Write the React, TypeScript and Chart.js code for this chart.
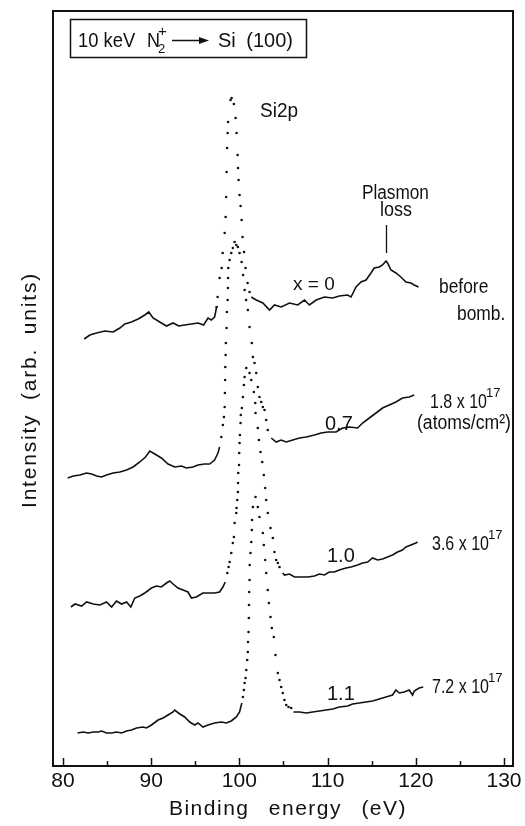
import React, { useEffect, useRef } from 'react';
import { Chart, registerables } from 'chart.js';

Chart.register(...registerables);

// ---- axis ticks (binding energy, eV) ----
const xTickValues = [80, 90, 100, 110, 120, 130];
const xMinorTickValues = [85, 95, 105, 115, 125];

// ---- curve 1 : x = 0, before bombardment ----
const c1LeftE = [82.41, 83.05, 83.81, 84.75, 85.69, 86.45, 87.01, 87.77, 88.52, 89.28, 89.73, 90.21, 90.97, 91.73, 92.48, 93.12, 93.80, 94.56, 95.31, 95.95, 96.44, 96.82, 97.19, 97.42];
const c1LeftI = [427, 431, 433, 435, 434, 438, 442, 444, 447, 451, 454, 448, 444, 440, 443, 440, 441, 442, 443, 441, 448, 446, 449, 459];
const c1PeakE = [97.42, 97.53, 97.76, 97.99, 98.10, 98.33, 98.44, 98.50, 98.55, 98.61, 98.67, 98.72, 99.00, 99.12, 99.38, 99.57, 99.68, 99.80, 99.85, 99.91, 100.02, 100.14, 100.25, 100.36, 100.53, 100.70, 100.93, 101.15];
const c1PeakI = [459, 469, 488, 498, 513, 533, 549, 569, 594, 618, 633, 644, 666, 668, 662, 648, 633, 611, 598, 586, 571, 560, 546, 529, 514, 498, 483, 474];
const c1RightE = [101.35, 101.91, 102.66, 103.42, 103.98, 104.74, 105.68, 106.62, 107.38, 107.94, 108.70, 109.64, 110.58, 111.33, 112.27, 112.66, 113.22, 113.79, 114.36, 114.92, 115.29, 115.86, 116.23, 116.62, 116.80, 117.18, 117.75, 118.31, 118.88, 119.45, 119.82, 120.31];
const c1RightI = [469, 466, 463, 456, 461, 459, 463, 461, 466, 461, 466, 469, 468, 470, 471, 469, 479, 484, 486, 493, 498, 499, 501, 505, 503, 496, 493, 489, 484, 483, 481, 479];

// ---- curve 2 : x = 0.7, 1.8e17 ----
const c2LeftE = [80.53, 81.17, 81.92, 82.68, 83.25, 83.81, 84.38, 84.94, 85.69, 86.45, 87.21, 87.95, 88.71, 89.36, 89.84, 90.41, 91.16, 91.91, 92.67, 93.43, 93.99, 94.74, 95.31, 96.06, 96.63, 97.19, 97.57, 97.76];
const c2LeftI = [288, 290, 291, 293, 292, 290, 289, 291, 293, 294, 296, 299, 304, 309, 315, 312, 308, 302, 299, 300, 298, 299, 301, 302, 302, 306, 313, 319];
const c2PeakE = [97.95, 98.13, 98.25, 98.33, 98.36, 98.38, 98.40, 98.44, 98.47, 98.55, 98.58, 98.67, 98.70, 98.72, 98.74, 98.89, 99.08, 99.26, 99.46, 99.65, 99.83, 100.02, 100.25, 100.42, 100.59, 100.76, 100.96, 101.15, 101.41, 101.53, 101.72, 101.91, 102.09, 102.28, 102.48, 102.66, 102.85, 103.04, 103.22];
const c2PeakI = [329, 341, 349, 359, 373, 386, 399, 411, 423, 438, 454, 466, 478, 488, 498, 506, 513, 518, 524, 521, 519, 513, 504, 491, 476, 466, 456, 439, 423, 409, 403, 393, 379, 369, 364, 359, 356, 346, 336];
const c2RightE = [103.61, 104.17, 104.74, 105.31, 106.05, 106.81, 107.57, 108.51, 109.26, 110.01, 110.96, 111.71, 112.47, 113.40, 113.97, 114.73, 115.49, 116.23, 116.99, 117.75, 118.49, 119.25, 119.82];
const c2RightI = [328, 324, 326, 324, 326, 328, 329, 331, 333, 334, 334, 338, 339, 338, 343, 348, 353, 358, 361, 364, 368, 369, 371];

// ---- curve 3 : x = 1.0, 3.6e17 ----
const c3LeftE = [80.90, 81.36, 82.12, 82.68, 83.43, 84.19, 84.94, 85.51, 86.07, 86.64, 87.21, 87.69, 88.14, 88.71, 89.28, 90.03, 90.60, 91.16, 91.73, 92.10, 92.48, 93.04, 93.61, 94.17, 94.56, 95.12, 95.87, 96.63, 97.19, 97.76, 98.13, 98.40];
const c3LeftI = [159, 162, 160, 164, 162, 161, 164, 159, 165, 162, 164, 159, 168, 170, 173, 178, 180, 179, 183, 185, 182, 178, 176, 174, 168, 169, 173, 173, 173, 174, 179, 184];
const c3PeakE = [98.63, 98.78, 98.89, 99.08, 99.26, 99.38, 99.46, 99.65, 99.68, 99.76, 99.83, 99.85, 99.87, 99.96, 99.98, 100.02, 100.06, 100.13, 100.16, 100.28, 100.40, 100.51, 100.59, 100.78, 101.15, 101.35, 101.64, 101.80, 101.83, 102.09, 102.21, 102.40, 102.59, 102.77, 102.93, 103.04, 103.22, 103.53, 103.79, 103.98, 104.17, 104.36, 104.55];
const c3PeakI = [193, 199, 204, 213, 223, 229, 243, 253, 258, 266, 274, 283, 293, 301, 313, 323, 331, 343, 351, 358, 369, 381, 389, 398, 393, 386, 374, 363, 353, 338, 326, 314, 304, 291, 278, 266, 253, 238, 228, 214, 206, 203, 199];
const c3RightE = [104.92, 105.11, 105.68, 106.25, 107.00, 107.75, 108.51, 109.07, 109.64, 110.20, 110.77, 111.33, 112.09, 112.66, 113.40, 113.97, 114.54, 115.10, 115.67, 116.23, 116.80, 117.36, 117.93, 118.49, 118.88, 119.45, 120.01, 120.19];
const c3RightI = [193, 191, 192, 189, 189, 189, 190, 192, 191, 194, 194, 196, 198, 199, 201, 203, 204, 208, 206, 207, 209, 211, 214, 216, 219, 221, 223, 224];

// ---- curve 4 : x = 1.1, 7.2e17 ----
const c4LeftE = [81.66, 82.30, 82.86, 83.43, 83.99, 84.38, 84.94, 85.51, 86.07, 86.64, 87.21, 87.77, 88.34, 89.08, 89.47, 90.03, 90.78, 91.35, 91.91, 92.48, 92.67, 93.24, 93.80, 94.37, 94.93, 95.31, 95.87, 96.44, 97.19, 97.95, 98.52, 99.08, 99.65, 100.02, 100.28];
const c4LeftI = [33, 34, 33, 34, 34, 35, 33, 33, 34, 33, 35, 36, 38, 39, 38, 41, 46, 48, 51, 54, 56, 52, 49, 44, 41, 43, 39, 41, 43, 44, 43, 45, 49, 54, 63];
const c4PeakE = [100.40, 100.51, 100.59, 100.70, 100.78, 100.89, 100.96, 100.98, 101.04, 101.07, 101.09, 101.11, 101.15, 101.17, 101.26, 101.35, 101.41, 101.44, 101.53, 101.83, 102.09, 102.28, 102.66, 102.77, 102.93, 103.04, 103.22, 103.34, 103.53, 103.68, 103.90, 104.09, 104.36, 104.55, 104.74, 104.92, 105.11, 105.31, 105.57, 105.87];
const c4PeakI = [69, 76, 83, 88, 96, 106, 114, 124, 134, 148, 161, 174, 186, 201, 213, 224, 236, 246, 259, 269, 259, 249, 233, 221, 206, 193, 176, 163, 149, 138, 129, 111, 93, 86, 79, 73, 66, 61, 59, 58];
const c4RightE = [106.13, 106.81, 107.57, 108.31, 109.07, 109.83, 110.58, 111.33, 112.27, 112.84, 113.60, 114.36, 115.10, 115.86, 116.62, 117.36, 117.75, 118.12, 118.69, 119.25, 119.63, 119.82, 120.38, 120.84];
const c4RightI = [54, 54, 53, 54, 55, 56, 57, 59, 60, 62, 63, 64, 65, 67, 69, 71, 76, 73, 74, 76, 71, 75, 78, 79];

const FONT = '"Liberation Sans", Arial, sans-serif';
const INK = '#111';

const zip = (e: number[], v: number[]) => e.map((x, k) => ({ x, y: v[k] }));

function drawText(
  ctx: CanvasRenderingContext2D,
  s: string,
  x: number,
  y: number,
  size: number,
  sx = 1,
  extra: { ls?: number; ws?: number; align?: CanvasTextAlign } = {}
) {
  ctx.save();
  ctx.font = `${size}px ${FONT}`;
  ctx.fillStyle = INK;
  ctx.textBaseline = 'alphabetic';
  ctx.textAlign = extra.align || 'left';
  (ctx as any).letterSpacing = `${extra.ls || 0}px`;
  (ctx as any).wordSpacing = `${extra.ws || 0}px`;
  ctx.translate(x, y);
  ctx.scale(sx, 1);
  ctx.fillText(s, 0, 0);
  ctx.restore();
}

const decorPlugin = {
  id: 'decor',
  beforeDraw(chart: any) {
    const ctx = chart.ctx as CanvasRenderingContext2D;
    ctx.save();
    ctx.fillStyle = '#fff';
    ctx.fillRect(0, 0, chart.width, chart.height);
    ctx.restore();
  },
  afterDraw(chart: any) {
    const ctx = chart.ctx as CanvasRenderingContext2D;
    const a = chart.chartArea;
    const xs = chart.scales.x;
    ctx.save();
    // frame
    ctx.strokeStyle = INK;
    ctx.lineWidth = 2;
    ctx.strokeRect(a.left, a.top, a.right - a.left, a.bottom - a.top);
    // inward ticks
    ctx.lineWidth = 1.5;
    const tick = (v: number, len: number) => {
      const px = Math.round(xs.getPixelForValue(v)) + 0.5;
      ctx.beginPath();
      ctx.moveTo(px, a.bottom);
      ctx.lineTo(px, a.bottom - len);
      ctx.stroke();
    };
    xTickValues.forEach((v) => tick(v, 8));
    xMinorTickValues.forEach((v) => tick(v, 5));

    // title box
    ctx.lineWidth = 1.5;
    ctx.strokeRect(70.5, 19.5, 236, 38);
    drawText(ctx, '10 keV', 78, 47, 20, 0.92);
    drawText(ctx, 'N', 147, 47, 20, 0.9);
    drawText(ctx, '2', 158, 53, 13);
    drawText(ctx, '+', 158, 36, 15);
    // reaction arrow
    ctx.lineWidth = 1.5;
    ctx.beginPath();
    ctx.moveTo(172, 40.5);
    ctx.lineTo(202, 40.5);
    ctx.stroke();
    ctx.beginPath();
    ctx.moveTo(209, 40.5);
    ctx.lineTo(199, 37);
    ctx.lineTo(199, 44);
    ctx.closePath();
    ctx.fillStyle = INK;
    ctx.fill();
    drawText(ctx, 'Si (100)', 218, 47, 20, 1, { ws: 5 });

    // peak annotations
    drawText(ctx, 'Si2p', 260, 117, 20, 0.95);
    drawText(ctx, 'Plasmon', 362, 199, 20, 0.86);
    drawText(ctx, 'loss', 380, 216, 20, 0.9);
    ctx.lineWidth = 1.3;
    ctx.beginPath();
    ctx.moveTo(386.5, 225);
    ctx.lineTo(386.5, 253);
    ctx.stroke();

    // composition labels
    drawText(ctx, 'x = 0', 293, 290, 19);
    drawText(ctx, '0.7', 325, 430, 20);
    drawText(ctx, '1.0', 327, 562, 20);
    drawText(ctx, '1.1', 327, 700, 20);

    // dose labels
    drawText(ctx, 'before', 439, 293, 20, 0.87);
    drawText(ctx, 'bomb.', 457, 320, 20, 0.87);
    drawText(ctx, '1.8 x 10', 430, 408, 20, 0.8);
    drawText(ctx, '17', 486, 397, 13);
    drawText(ctx, '(atoms/cm²)', 417, 429, 20, 0.88);
    drawText(ctx, '3.6 x 10', 432, 550, 20, 0.8);
    drawText(ctx, '17', 488, 539, 13);
    drawText(ctx, '7.2 x 10', 432, 693, 20, 0.8);
    drawText(ctx, '17', 488, 682, 13);

    // axis titles
    drawText(ctx, 'Binding energy (eV)', 288, 815, 21, 1, { ls: 1.5, ws: 12, align: 'center' });
    ctx.save();
    ctx.translate(36, 390);
    ctx.rotate(-Math.PI / 2);
    drawText(ctx, 'Intensity (arb. units)', 0, 0, 21, 1, { ls: 1.8, ws: 6, align: 'center' });
    ctx.restore();

    ctx.restore();
  },
};

export default function App() {
  const ref = useRef<HTMLCanvasElement>(null);

  useEffect(() => {
    if (!ref.current) return;
    const curves = [
      [c1LeftE, c1LeftI, c1PeakE, c1PeakI, c1RightE, c1RightI],
      [c2LeftE, c2LeftI, c2PeakE, c2PeakI, c2RightE, c2RightI],
      [c3LeftE, c3LeftI, c3PeakE, c3PeakI, c3RightE, c3RightI],
      [c4LeftE, c4LeftI, c4PeakE, c4PeakI, c4RightE, c4RightI],
    ];
    const datasets: any[] = [];
    curves.forEach(([le, li, pe, pi, re, ri]) => {
      const lineStyle = {
        showLine: true,
        borderColor: INK,
        borderWidth: 1.6,
        pointRadius: 0,
        tension: 0,
      };
      datasets.push({ data: zip(le, li), ...lineStyle });
      datasets.push({
        data: zip(pe, pi),
        showLine: false,
        pointRadius: 1.3,
        pointBackgroundColor: INK,
        pointBorderWidth: 0,
      });
      datasets.push({ data: zip(re, ri), ...lineStyle });
    });

    const chart = new Chart(ref.current, {
      type: 'scatter',
      data: { datasets },
      options: {
        responsive: false,
        animation: false,
        devicePixelRatio: 1,
        layout: { padding: { left: 53, top: 11, right: 12, bottom: 0 } },
        plugins: { legend: { display: false }, tooltip: { enabled: false } },
        scales: {
          x: {
            type: 'linear',
            min: 78.87,
            max: 131.02,
            afterBuildTicks: (s: any) => {
              s.ticks = xTickValues.map((v) => ({ value: v }));
            },
            afterFit: (s: any) => {
              s.height = 60;
            },
            grid: { display: false, drawTicks: false },
            border: { display: false },
            ticks: {
              color: INK,
              font: { family: FONT, size: 21 },
              padding: 3,
              maxRotation: 0,
              autoSkip: false,
            },
          },
          y: { type: 'linear', min: 0, max: 755, display: false },
        },
      },
      plugins: [decorPlugin],
    } as any);
    return () => chart.destroy();
  }, []);

  return (
    <div style={{ position: 'fixed', left: 0, top: 0, width: 525, height: 826, background: '#fff' }}>
      <canvas ref={ref} width={525} height={826} style={{ display: 'block' }} />
    </div>
  );
}
